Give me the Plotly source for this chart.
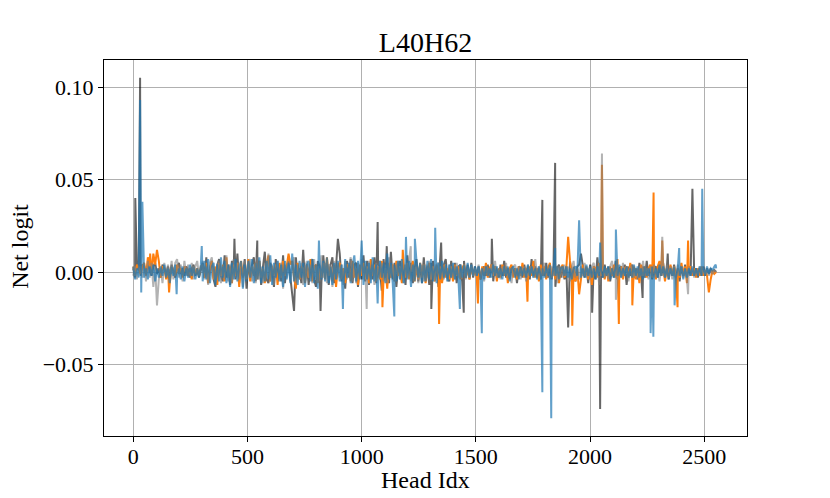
import plotly.graph_objects as go

# Head indices of the sampled background band (every 8th head)
grid_idx = list(range(0, 2560, 8))

# ---------------- dark gray series ----------------
dark_band = [
    .002, -.003, .003, .001, -.002, .004,
    .003, -.001, .004, .001, -.002, .003, .005, -.001, .002, -.003, .004, .002, -.001, .003, -.002, .004,
    .001, -.003, .002, .005, -.001, .002, -.002, .003, .001, -.003, .002, .004, -.002, .001, -.003, .002,
    .005, -.003, .008, -.006, .002, .006, -.004, -.008, .004, .007, -.002, -.005, .009, -.003, .004,
    -.007, .006, .002, -.004, .010, -.006, .003, -.002, .007, -.009, .005, -.003, .004, .008, -.005,
    -.002, .006, -.007, .003, .011, -.004, -.006, .005, .002, -.008, .007, -.003, .004, -.005, .009,
    -.006, .003, .006, -.004, -.010, .005, .008, -.003, .002, -.006, .012, -.005, .004, -.007, .003,
    .007, -.004, -.008, .006, .003, -.005, .009, -.002, .005, -.007, .004, .008, -.006, .003, -.004,
    .010, -.005, .002, -.009, .006, -.003, .007, -.006, .004, .005, -.008, .003, -.004, .009, -.005,
    .006, -.007, .003, -.004, .008, -.006, .005, .002, -.010, .007, -.003, .004, -.006, .011, -.004,
    .005, -.008, .003, .006, -.005, .004, -.007, .009, -.003, .005, -.006, .002, .007, -.005, .004,
    -.006, .008, -.004, .003, -.007, .005, .006, -.004, .003, -.008, .006, -.005, .004, .007, -.003,
    -.005, .006, -.004, .005, -.006, .003, .004, -.005, .006, -.003, .004, -.004, .005, -.003, .003,
    -.002, .003, -.004, .001, .003, -.002, .004, -.003, .002, -.005, .003, .001,
    -.003, .004, -.002, .006, -.003, .002, -.004, .003, -.001, .002, -.006, .003,
    .002, -.003, .004, -.002, .003, -.004, .007, -.002, .003, -.003, .002, -.004,
    .003, -.002, .005, -.003, .002, -.004, .003, -.008, .002, .004, -.003, .002,
    -.004, .003, -.002, .006, -.003, .002, -.005, .003, .004, -.002, .003, -.003,
    .002, -.006, .004, -.002, .003, -.004, .008, -.003, .002, -.003, .004, -.002,
    .003, -.005, .002, -.003, .006, -.004, .002, .003, -.002, .004, -.007, .003,
    -.002, .004, -.003, .002, -.004, .005, -.002, .003, -.003, .006, -.002, .003,
    -.004, .002, .003, -.003, .004, -.002, .005, -.003, .002, -.004, .003, -.002,
    .004, -.003, .002, -.005, .003, -.002, .004, -.003, .002, -.002, .003, -.002,
    .002, -.003, .002, -.002, .003, -.002, .002, -.001, .002, -.001, .001, .000,
]
dark_spike_idx = [9, 30, 443, 543, 704, 820, 896, 1070, 1110, 1305, 1348, 1447, 1570,
                  1791, 1847, 1904, 1960, 2009, 2044, 2230, 2340, 2448]
dark_spike_val = [0.040, 0.105, 0.018, 0.017, -0.021, -0.021, 0.018, 0.027, 0.014, -0.020, 0.016, -0.022, 0.018,
                  0.039, 0.059, -0.030, 0.010, -0.022, -0.074, -0.014, 0.010, 0.045]

# ---------------- orange series ----------------
orange_band = [
    .003, -.002, .004, .002, -.001, .003,
    .005, -.002, .008, .003, -.001, .010, .004, -.002, .006, -.003, .003, .002, -.004, .002, -.006, .003,
    .001, -.002, .004, -.001, .002, -.003, .003, .001, -.002, .002, -.004, .003, -.001, .002, -.002, .003,
    .004, -.003, .005, -.006, .002, .006, -.004, .003, -.007, .005, -.002, .004, -.005, .008, -.003,
    .003, -.006, .004, -.002, .005, -.008, .006, -.003, .002, -.004, .007, -.005, .003, -.002, .005,
    -.004, .006, -.003, .002, -.006, .004, .009, -.005, .003, -.002, .004, -.007, .005, -.003, .006,
    -.002, .003, -.005, .004, .006, -.003, -.009, .005, -.004, .003, .002, -.006, .004, -.003, .007,
    -.005, .003, .004, -.006, .002, -.003, .005, -.004, .008, -.002, .003, -.005, .004, -.008, .003,
    .005, -.004, .002, -.006, .004, .003, -.005, .006, -.003, .002, -.007, .004, -.002, .005, -.004,
    .003, -.006, .007, -.002, .004, -.005, .003, -.004, .006, -.003, .002, -.009, .005, -.003, .004,
    -.005, .006, -.002, .003, -.006, .004, -.003, .005, -.004, .002, .006, -.005, .003, -.004, .005,
    -.003, .004, -.006, .002, .005, -.004, .003, -.005, .004, -.002, .003, -.006, .004, -.003, .002,
    -.004, .003, -.005, .004, -.002, .003, -.004, .002, .004, -.003, .002, -.004, .003, -.002, .002,
    -.003, .002, -.004, .003, -.002, .005, -.003, .002, .004, -.002, .003, -.005,
    .002, -.003, .004, -.002, .003, -.006, .002, .004, -.003, .002, -.004, .003,
    -.002, .005, -.003, .002, -.004, .003, -.002, .006, -.003, .002, -.005, .004,
    -.002, .003, -.004, .002, .005, -.003, .002, -.004, .003, -.006, .002, .004,
    -.003, .002, -.004, .006, -.002, .003, -.005, .002, .003, -.003, .004, -.002,
    .003, -.004, .002, -.007, .003, .002, -.003, .005, -.002, .003, -.004, .002,
    -.005, .003, -.002, .004, -.003, .007, -.002, .003, -.004, .002, .003, -.003,
    .005, -.002, .003, -.004, .002, -.006, .004, -.002, .003, -.003, .002, .004,
    -.003, .002, -.004, .003, .006, -.002, .003, -.005, .002, -.003, .004, -.002,
    .003, -.004, .002, -.003, .005, -.002, .003, -.006, .002, .003, -.002, .002,
    -.003, .002, -.002, .003, -.002, .001, -.002, .003, -.004, .001, -.001, .000,
]
orange_spike_idx = [74, 104, 157, 680, 1091, 1180, 1339, 1509, 1726, 1904, 1922, 1952,
                    2052, 2126, 2185, 2278, 2316, 2383, 2429, 2520]
orange_spike_val = [0.010, 0.012, -0.011, 0.010, -0.019, 0.012, -0.028, -0.017, -0.016, 0.019, -0.029, -0.012,
                    0.058, -0.028, -0.018, 0.043, 0.017, -0.019, 0.017, -0.011]

# ---------------- light gray series ----------------
light_band = [
    -.002, .003, -.004, .002, .003, -.003,
    .004, -.005, .006, -.003, .005, -.008, .003, .006, -.004, .002, -.006, .005, -.002, .004, -.003, .006,
    -.004, .005, .007, -.003, .004, -.005, .006, -.002, .004, -.003, .005, -.004, .003, .006, -.002, .003,
    .006, -.004, .003, -.007, .005, .008, -.003, -.005, .004, .006, -.006, .003, -.004, .009, -.005,
    .004, -.006, .007, -.003, .005, -.004, .002, -.008, .006, -.003, .004, .007, -.005, .003, -.006,
    .008, -.004, .003, -.006, .005, -.003, .010, -.005, .004, -.007, .003, .006, -.004, .005, -.009,
    .004, -.003, .006, -.005, .003, .008, -.006, .004, -.004, .005, -.007, .003, .006, -.003, .004,
    -.006, .007, -.004, .003, -.005, .009, -.003, .005, -.006, .004, .003, -.008, .006, -.004, .005,
    -.003, .004, -.007, .006, -.004, .003, .008, -.005, .004, -.006, .005, -.003, .007, -.004, .003,
    -.005, .006, -.004, .004, -.007, .005, -.003, .006, .003, -.005, .004, -.006, .008, -.003, .004,
    -.005, .003, .006, -.004, .005, -.006, .004, -.003, .007, -.005, .003, -.004, .005, -.006, .004,
    .003, -.005, .004, -.003, .006, -.004, .003, -.005, .004, .005, -.003, .004, -.004, .003, -.005,
    .004, -.003, .003, -.004, .005, -.003, .004, -.002, .003, -.004, .003, -.003, .004, -.002, .002,
    -.002, .004, -.003, .002, -.005, .003, .002, -.003, .004, -.002, .006, -.003,
    .002, -.004, .003, -.002, .005, -.003, .002, -.006, .003, .004, -.002, .003,
    -.004, .002, .003, -.005, .004, -.002, .003, -.003, .007, -.002, .003, -.004,
    .002, .005, -.003, .002, -.004, .003, -.002, .004, -.006, .003, .002, -.003,
    .004, -.002, .003, -.005, .002, .006, -.003, .002, -.004, .003, -.002, .005,
    -.003, .002, -.004, .003, .005, -.002, .003, -.007, .002, .004, -.003, .002,
    -.004, .003, .006, -.002, .003, -.004, .002, -.003, .005, -.002, .003, -.005,
    .002, .004, -.003, .002, -.004, .003, -.002, .006, -.003, .002, -.004, .003,
    -.002, .004, -.003, .002, -.005, .003, .002, -.003, .004, -.002, .003, -.004,
    .002, -.003, .004, -.002, .003, -.003, .002, -.004, .003, -.002, .002, -.003,
    .002, -.002, .003, -.002, .002, -.001, .002, -.002, .001, -.001, .001, .000,
]
light_spike_idx = [104, 1022, 1215, 2052, 2113, 2316, 2429]
light_spike_val = [-0.018, -0.020, 0.014, 0.064, -0.015, 0.019, -0.012]

# ---------------- blue series ----------------
blue_band = [
    .003, -.004, .002, -.003, -.005, .003,
    -.003, .002, -.004, .003, -.002, .004, -.005, .002, -.003, .003, -.002, .004, -.003, .002, -.006, .003,
    -.002, .004, -.003, .002, -.004, .003, -.005, .002, -.003, .004, -.002, .003, -.004, .002, -.003, .004,
    -.005, .006, -.004, .007, -.006, .003, .005, -.007, .004, -.005, .008, -.003, .006, -.006, .004,
    -.008, .005, -.004, .007, -.005, .003, .006, -.009, .004, -.005, .006, -.003, .007, -.006, .005,
    -.004, .008, -.006, .003, -.005, .006, -.004, .009, -.007, .005, -.003, .006, -.005, .004, -.008,
    .006, -.004, .005, -.006, .010, -.005, .004, -.007, .006, -.003, .005, -.008, .004, .006, -.005,
    .007, -.006, .004, -.009, .005, -.004, .006, -.005, .008, -.006, .003, -.007, .005, -.004, .006,
    -.005, .004, -.008, .007, -.003, .005, -.006, .004, .009, -.005, .006, -.004, .005, -.007, .006,
    -.004, .005, -.006, .008, -.005, .004, -.007, .006, -.003, .005, -.006, .010, -.004, .005, -.006,
    .004, -.005, .006, -.004, .007, -.006, .005, -.004, .006, -.008, .004, -.005, .006, -.003, .005,
    -.006, .004, -.005, .006, -.004, .007, -.005, .003, -.006, .005, -.004, .006, -.003, .004, -.005,
    .004, -.003, .005, -.004, .003, -.005, .004, -.003, .004, -.003, .005, -.003, .004, -.002, .003,
    -.002, .003, -.003, .002, -.004, .003, -.002, .002, -.003, .004, -.002, .003,
    -.003, .002, -.004, .003, -.002, .003, -.005, .002, .003, -.003, .002, -.004,
    .003, -.002, .002, -.003, .004, -.002, .003, -.003, .002, -.004, .003, -.002,
    .002, -.003, .003, -.002, .004, -.003, .002, -.002, .003, -.004, .002, .003,
    -.002, .003, -.003, .002, -.004, .002, .003, -.002, .003, -.003, .002, -.003,
    .004, -.002, .003, -.003, .002, -.004, .003, -.002, .002, -.003, .003, -.002,
    .003, -.004, .002, -.003, .003, -.002, .004, -.003, .002, -.002, .003, -.003,
    .002, -.003, .004, -.002, .003, -.003, .002, -.004, .003, -.002, .002, -.003,
    .003, -.002, .002, -.003, .004, -.002, .003, -.003, .002, -.004, .002, -.002,
    .003, -.003, .002, -.002, .003, -.004, .002, -.003, .002, -.002, .003, -.002,
    .002, -.002, .003, -.002, .002, -.002, .003, -.001, .002, .001, .003, .002,
]
blue_spike_idx = [30, 35, 40, 190, 300, 813, 918, 1000, 1070, 1143, 1194, 1233, 1322, 1430, 1526,
                  1791, 1830, 1847, 1952, 2044, 2113, 2265, 2277, 2370, 2390, 2491, 2550]
blue_spike_val = [0.093, -0.011, 0.038, -0.012, 0.014, 0.017, -0.020, 0.017, -0.017, -0.024, 0.019, 0.018, 0.024, -0.020, -0.033,
                  -0.065, -0.079, 0.013, 0.028, 0.016, 0.023, -0.033, -0.035, -0.018, 0.013, 0.045, 0.004]

x_ticks = [0, 500, 1000, 1500, 2000, 2500]
y_ticks = [-0.05, 0.0, 0.05, 0.10]


def build(band, sidx, sval):
    pts = dict(zip(grid_idx, band))
    pts.update(zip(sidx, sval))
    xs = sorted(pts)
    return xs, [pts[k] for k in xs]


series = [
    (dark_band, dark_spike_idx, dark_spike_val, "rgba(0,0,0,0.6)"),
    (orange_band, orange_spike_idx, orange_spike_val, "rgba(255,127,14,1)"),
    (light_band, light_spike_idx, light_spike_val, "rgba(128,128,128,0.6)"),
    (blue_band, blue_spike_idx, blue_spike_val, "rgba(31,119,180,0.7)"),
]

fig = go.Figure()
for band, si, sv, col in series:
    xs, ys = build(band, si, sv)
    fig.add_trace(go.Scatter(x=xs, y=ys, mode="lines", line=dict(color=col, width=2),
                             showlegend=False, hoverinfo="skip"))

FONT = "Liberation Serif"
# page body adds an 8px offset; the figure is sized to fit the 830x498 window
W, H = 822, 490
L, R, T, B = 96, 83, 52, 62
fig.update_layout(
    width=W, height=H,
    margin=dict(l=L, r=R, t=T, b=B, autoexpand=False),
    paper_bgcolor="white", plot_bgcolor="white",
    font=dict(family=FONT, color="black", size=22),
    title=dict(text="L40H62", x=0.5, xref="paper", xanchor="center",
               y=1 - 34 / H, yref="container", yanchor="middle", font=dict(size=28)),
    annotations=[
        dict(text="Head Idx", x=0.5, y=-44 / (H - T - B), xref="paper", yref="paper",
             xanchor="center", yanchor="middle", showarrow=False, font=dict(size=24)),
        dict(text="Net logit", x=-84 / (W - L - R), y=0.503, xref="paper", yref="paper",
             xanchor="center", yanchor="middle", textangle=-90, showarrow=False, font=dict(size=24)),
    ],
)
fig.update_xaxes(
    range=[-128, 2687], tickvals=x_ticks, showgrid=True, gridcolor="#b0b0b0", gridwidth=1,
    showline=True, linecolor="black", linewidth=1, mirror=True, ticks="outside", ticklen=5,
    tickcolor="black", zeroline=False, tickfont=dict(size=22), automargin=False,
    ticklabelstandoff=-4,
)
fig.update_yaxes(
    range=[-0.0886, 0.1146], tickvals=y_ticks, tickformat=".2f", showgrid=True, gridcolor="#b0b0b0",
    gridwidth=1, showline=True, linecolor="black", linewidth=1, mirror=True, ticks="outside",
    ticklen=5, tickcolor="black", zeroline=False, tickfont=dict(size=22), automargin=False,
)

fig.write_html("out.html")
